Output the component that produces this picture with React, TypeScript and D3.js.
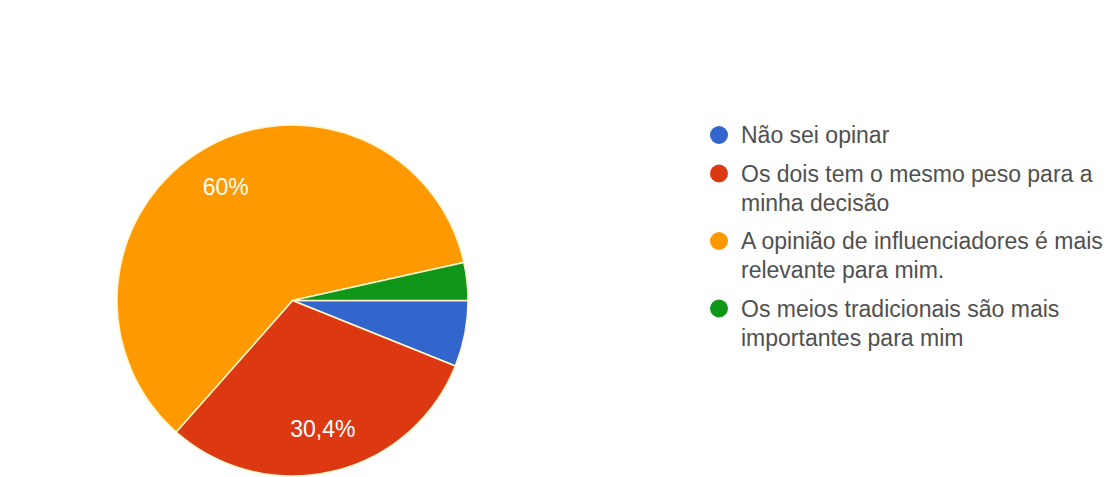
import React from "react";
import * as d3 from "d3";

const categories = [
  "Não sei opinar",
  "Os dois tem o mesmo peso para a minha decisão",
  "A opinião de influenciadores é mais relevante para mim.",
  "Os meios tradicionais são mais importantes para mim",
];
const legendLines = [
  ["Não sei opinar"],
  ["Os dois tem o mesmo peso para a", "minha decisão"],
  ["A opinião de influenciadores é mais", "relevante para mim."],
  ["Os meios tradicionais são mais", "importantes para mim"],
];
const counts = [7, 35, 69, 4];
const colors = ["#3366cc", "#dc3912", "#ff9900", "#109618"];

const W = 1119;
const H = 477;
const FONT = "'Liberation Sans', Arial, sans-serif";

export default function App() {
  const cx = 292.5;
  const cy = 300.5;
  const R = 175.5;
  const total = d3.sum(counts);
  const pie = d3
    .pie<number>()
    .sort(null)
    .startAngle(Math.PI / 2)
    .endAngle(Math.PI / 2 + 2 * Math.PI);
  const arcs = pie(counts);
  const arc = d3.arc<d3.PieArcDatum<number>>().innerRadius(0).outerRadius(R);
  const labelArc = d3
    .arc<d3.PieArcDatum<number>>()
    .innerRadius(R * 0.75)
    .outerRadius(R * 0.75);
  const fmt = (v: number) => {
    const p = (v / total) * 100;
    const s = d3.format(".1f")(p).replace(/\.0$/, "");
    return s.replace(".", ",") + "%";
  };

  // legend layout
  const legX = 719;
  const textX = 741;
  const lineH = 29;
  const itemGap = 9.5;
  let y = 135;
  const legendItems = legendLines.map((lines, i) => {
    const item = { y, lines, color: colors[i], key: categories[i] };
    y += lines.length * lineH + itemGap;
    return item;
  });

  return (
    <svg
      width={W}
      height={H}
      style={{ position: "absolute", left: 0, top: 0, background: "#fff" }}
      fontFamily={FONT}
    >
      <rect x={0} y={0} width={W} height={H} fill="#fff" />
      <g transform={`translate(${cx},${cy})`}>
        {arcs.map((a, i) => (
          <path
            key={i}
            d={arc(a) || ""}
            fill={colors[i]}
            stroke="#fff6cc"
            strokeWidth={1.5}
          />
        ))}
        {arcs.map((a, i) => {
          const frac = a.value / total;
          if (frac < 0.1) return null;
          const [lx, ly] = labelArc.centroid(a);
          return (
            <text
              key={"l" + i}
              x={lx}
              y={ly}
              fill="#ffffff"
              fontSize={23}
              textAnchor="middle"
              dominantBaseline="central"
            >
              {fmt(a.value)}
            </text>
          );
        })}
      </g>
      <g>
        {legendItems.map((it) => (
          <g key={it.key}>
            <circle cx={legX} cy={it.y} r={9} fill={it.color} />
            {it.lines.map((ln, j) => (
              <text
                key={j}
                x={textX}
                y={it.y + j * lineH}
                fontSize={23}
                fill="#505050"
                dominantBaseline="central"
              >
                {ln}
              </text>
            ))}
          </g>
        ))}
      </g>
    </svg>
  );
}
